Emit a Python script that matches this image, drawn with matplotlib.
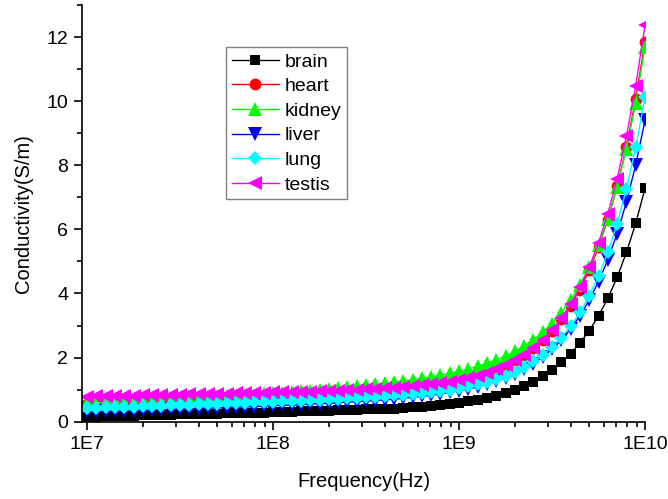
import numpy as np
import matplotlib
matplotlib.use("Agg")
import matplotlib.pyplot as plt
from matplotlib.ticker import MultipleLocator, LogLocator, NullFormatter

plt.rcParams["font.family"] = ["Liberation Sans", "DejaVu Sans"]

# frequency sweep, 20 points per decade from 1E7 to 1E10 Hz
freq = np.logspace(7, 10, 61)

brain = [0.15, 0.16, 0.17, 0.18, 0.18, 0.19, 0.20, 0.21, 0.21, 0.22,
         0.23, 0.23, 0.24, 0.25, 0.25, 0.26, 0.27, 0.27, 0.28, 0.28,
         0.30, 0.30, 0.31, 0.32, 0.33, 0.33, 0.34, 0.35, 0.36, 0.37,
         0.38, 0.39, 0.40, 0.41, 0.43, 0.45, 0.47, 0.49, 0.52, 0.55,
         0.59, 0.63, 0.68, 0.74, 0.81, 0.90, 1.00, 1.11, 1.25, 1.42,
         1.61, 1.85, 2.12, 2.45, 2.84, 3.30, 3.85, 4.50, 5.28, 6.19, 7.28]

heart = [0.55, 0.56, 0.57, 0.58, 0.59, 0.60, 0.61, 0.62, 0.63, 0.64,
         0.66, 0.67, 0.68, 0.69, 0.70, 0.71, 0.72, 0.73, 0.75, 0.76,
         0.78, 0.79, 0.80, 0.82, 0.83, 0.85, 0.86, 0.88, 0.90, 0.92,
         0.94, 0.96, 0.98, 1.01, 1.04, 1.07, 1.10, 1.14, 1.19, 1.24,
         1.29, 1.36, 1.44, 1.53, 1.64, 1.77, 1.91, 2.09, 2.30, 2.55,
         2.84, 3.19, 3.62, 4.12, 4.72, 5.44, 6.30, 7.34, 8.58, 10.07, 11.85]

kidney = [0.58, 0.59, 0.60, 0.61, 0.62, 0.64, 0.65, 0.66, 0.68, 0.69,
          0.71, 0.72, 0.74, 0.75, 0.77, 0.79, 0.80, 0.82, 0.84, 0.86,
          0.88, 0.90, 0.93, 0.95, 0.97, 1.00, 1.02, 1.05, 1.07, 1.10,
          1.13, 1.16, 1.20, 1.23, 1.27, 1.31, 1.35, 1.40, 1.45, 1.51,
          1.57, 1.64, 1.73, 1.82, 1.92, 2.05, 2.19, 2.36, 2.56, 2.79,
          3.06, 3.39, 3.79, 4.26, 4.82, 5.50, 6.32, 7.31, 8.51, 9.95, 11.70]

liver = [0.30, 0.31, 0.32, 0.33, 0.34, 0.34, 0.35, 0.36, 0.37, 0.38,
         0.39, 0.40, 0.41, 0.42, 0.43, 0.44, 0.45, 0.46, 0.47, 0.48,
         0.50, 0.51, 0.52, 0.53, 0.55, 0.56, 0.57, 0.59, 0.61, 0.62,
         0.64, 0.66, 0.68, 0.70, 0.73, 0.76, 0.79, 0.82, 0.86, 0.91,
         0.96, 1.02, 1.08, 1.16, 1.26, 1.36, 1.49, 1.64, 1.81, 2.02,
         2.26, 2.55, 2.90, 3.30, 3.79, 4.37, 5.05, 5.87, 6.85, 8.01, 9.40]

lung = [0.43, 0.44, 0.45, 0.46, 0.47, 0.47, 0.48, 0.49, 0.50, 0.51,
        0.52, 0.53, 0.54, 0.55, 0.56, 0.57, 0.58, 0.59, 0.60, 0.61,
        0.62, 0.64, 0.65, 0.66, 0.67, 0.69, 0.70, 0.71, 0.73, 0.74,
        0.76, 0.78, 0.80, 0.82, 0.84, 0.87, 0.90, 0.93, 0.96, 1.00,
        1.05, 1.11, 1.17, 1.25, 1.33, 1.44, 1.56, 1.70, 1.88, 2.08,
        2.33, 2.62, 2.98, 3.41, 3.92, 4.54, 5.28, 6.18, 7.26, 8.56, 10.13]

testis = [0.78, 0.79, 0.79, 0.80, 0.80, 0.81, 0.82, 0.82, 0.83, 0.83,
          0.84, 0.85, 0.85, 0.86, 0.86, 0.87, 0.88, 0.88, 0.89, 0.89,
          0.91, 0.91, 0.92, 0.93, 0.94, 0.95, 0.96, 0.97, 0.98, 0.99,
          1.01, 1.02, 1.04, 1.06, 1.08, 1.10, 1.13, 1.17, 1.20, 1.25,
          1.30, 1.37, 1.44, 1.53, 1.63, 1.76, 1.91, 2.09, 2.30, 2.55,
          2.86, 3.23, 3.67, 4.19, 4.82, 5.58, 6.49, 7.58, 8.90, 10.48, 12.37]

names = ["brain", "heart", "kidney", "liver", "lung", "testis"]
colors = ["#000000", "#FF0000", "#00FF00", "#0000FF", "#00FFFF", "#FF00FF"]
markers = ["s", "o", "^", "v", "D", "<"]
sizes = [7.5, 8.5, 9.5, 9.5, 7.5, 9.5]

fig = plt.figure(figsize=(6.68, 4.99), dpi=100)
ax = fig.add_axes([0.1228, 0.155, 0.8428, 0.835])

for y, c, m, s, n in zip([brain, heart, kidney, liver, lung, testis],
                         colors, markers, sizes, names):
    ax.plot(freq, y, color=c, marker=m, markersize=s, markeredgewidth=0,
            linewidth=1, label=n)

ax.set_xscale("log")
ax.set_xlim(9.4e6, 1e10)
ax.set_ylim(0, 13)
ax.set_xticks([1e7, 1e8, 1e9, 1e10])
ax.set_xticklabels(["1E7", "1E8", "1E9", "1E10"])
ax.xaxis.set_minor_locator(LogLocator(base=10, subs=np.arange(2, 10)))
ax.xaxis.set_minor_formatter(NullFormatter())
ax.yaxis.set_major_locator(MultipleLocator(2))
ax.yaxis.set_minor_locator(MultipleLocator(1))

ax.spines["top"].set_visible(False)
ax.spines["right"].set_visible(False)
ax.spines["left"].set_linewidth(1.2)
ax.spines["bottom"].set_linewidth(1.2)
ax.tick_params(which="major", direction="out", length=6, width=1.2,
               labelsize=14, pad=4)
ax.tick_params(which="minor", direction="out", length=3.5, width=1.2)

ax.set_xlabel("Frequency(Hz)", fontsize=14.5, labelpad=14)
ax.set_ylabel("Conductivity(S/m)", fontsize=14.5, labelpad=10)

leg = ax.legend(loc="upper left", bbox_to_anchor=(0.256, 0.899),
                fontsize=14, frameon=True, fancybox=False, framealpha=1,
                edgecolor="#808080", handlelength=2.4, handletextpad=0.3,
                labelspacing=0.36, borderpad=0.3, borderaxespad=0)
leg.get_frame().set_linewidth(1)

fig.savefig("out.png", dpi=100)
